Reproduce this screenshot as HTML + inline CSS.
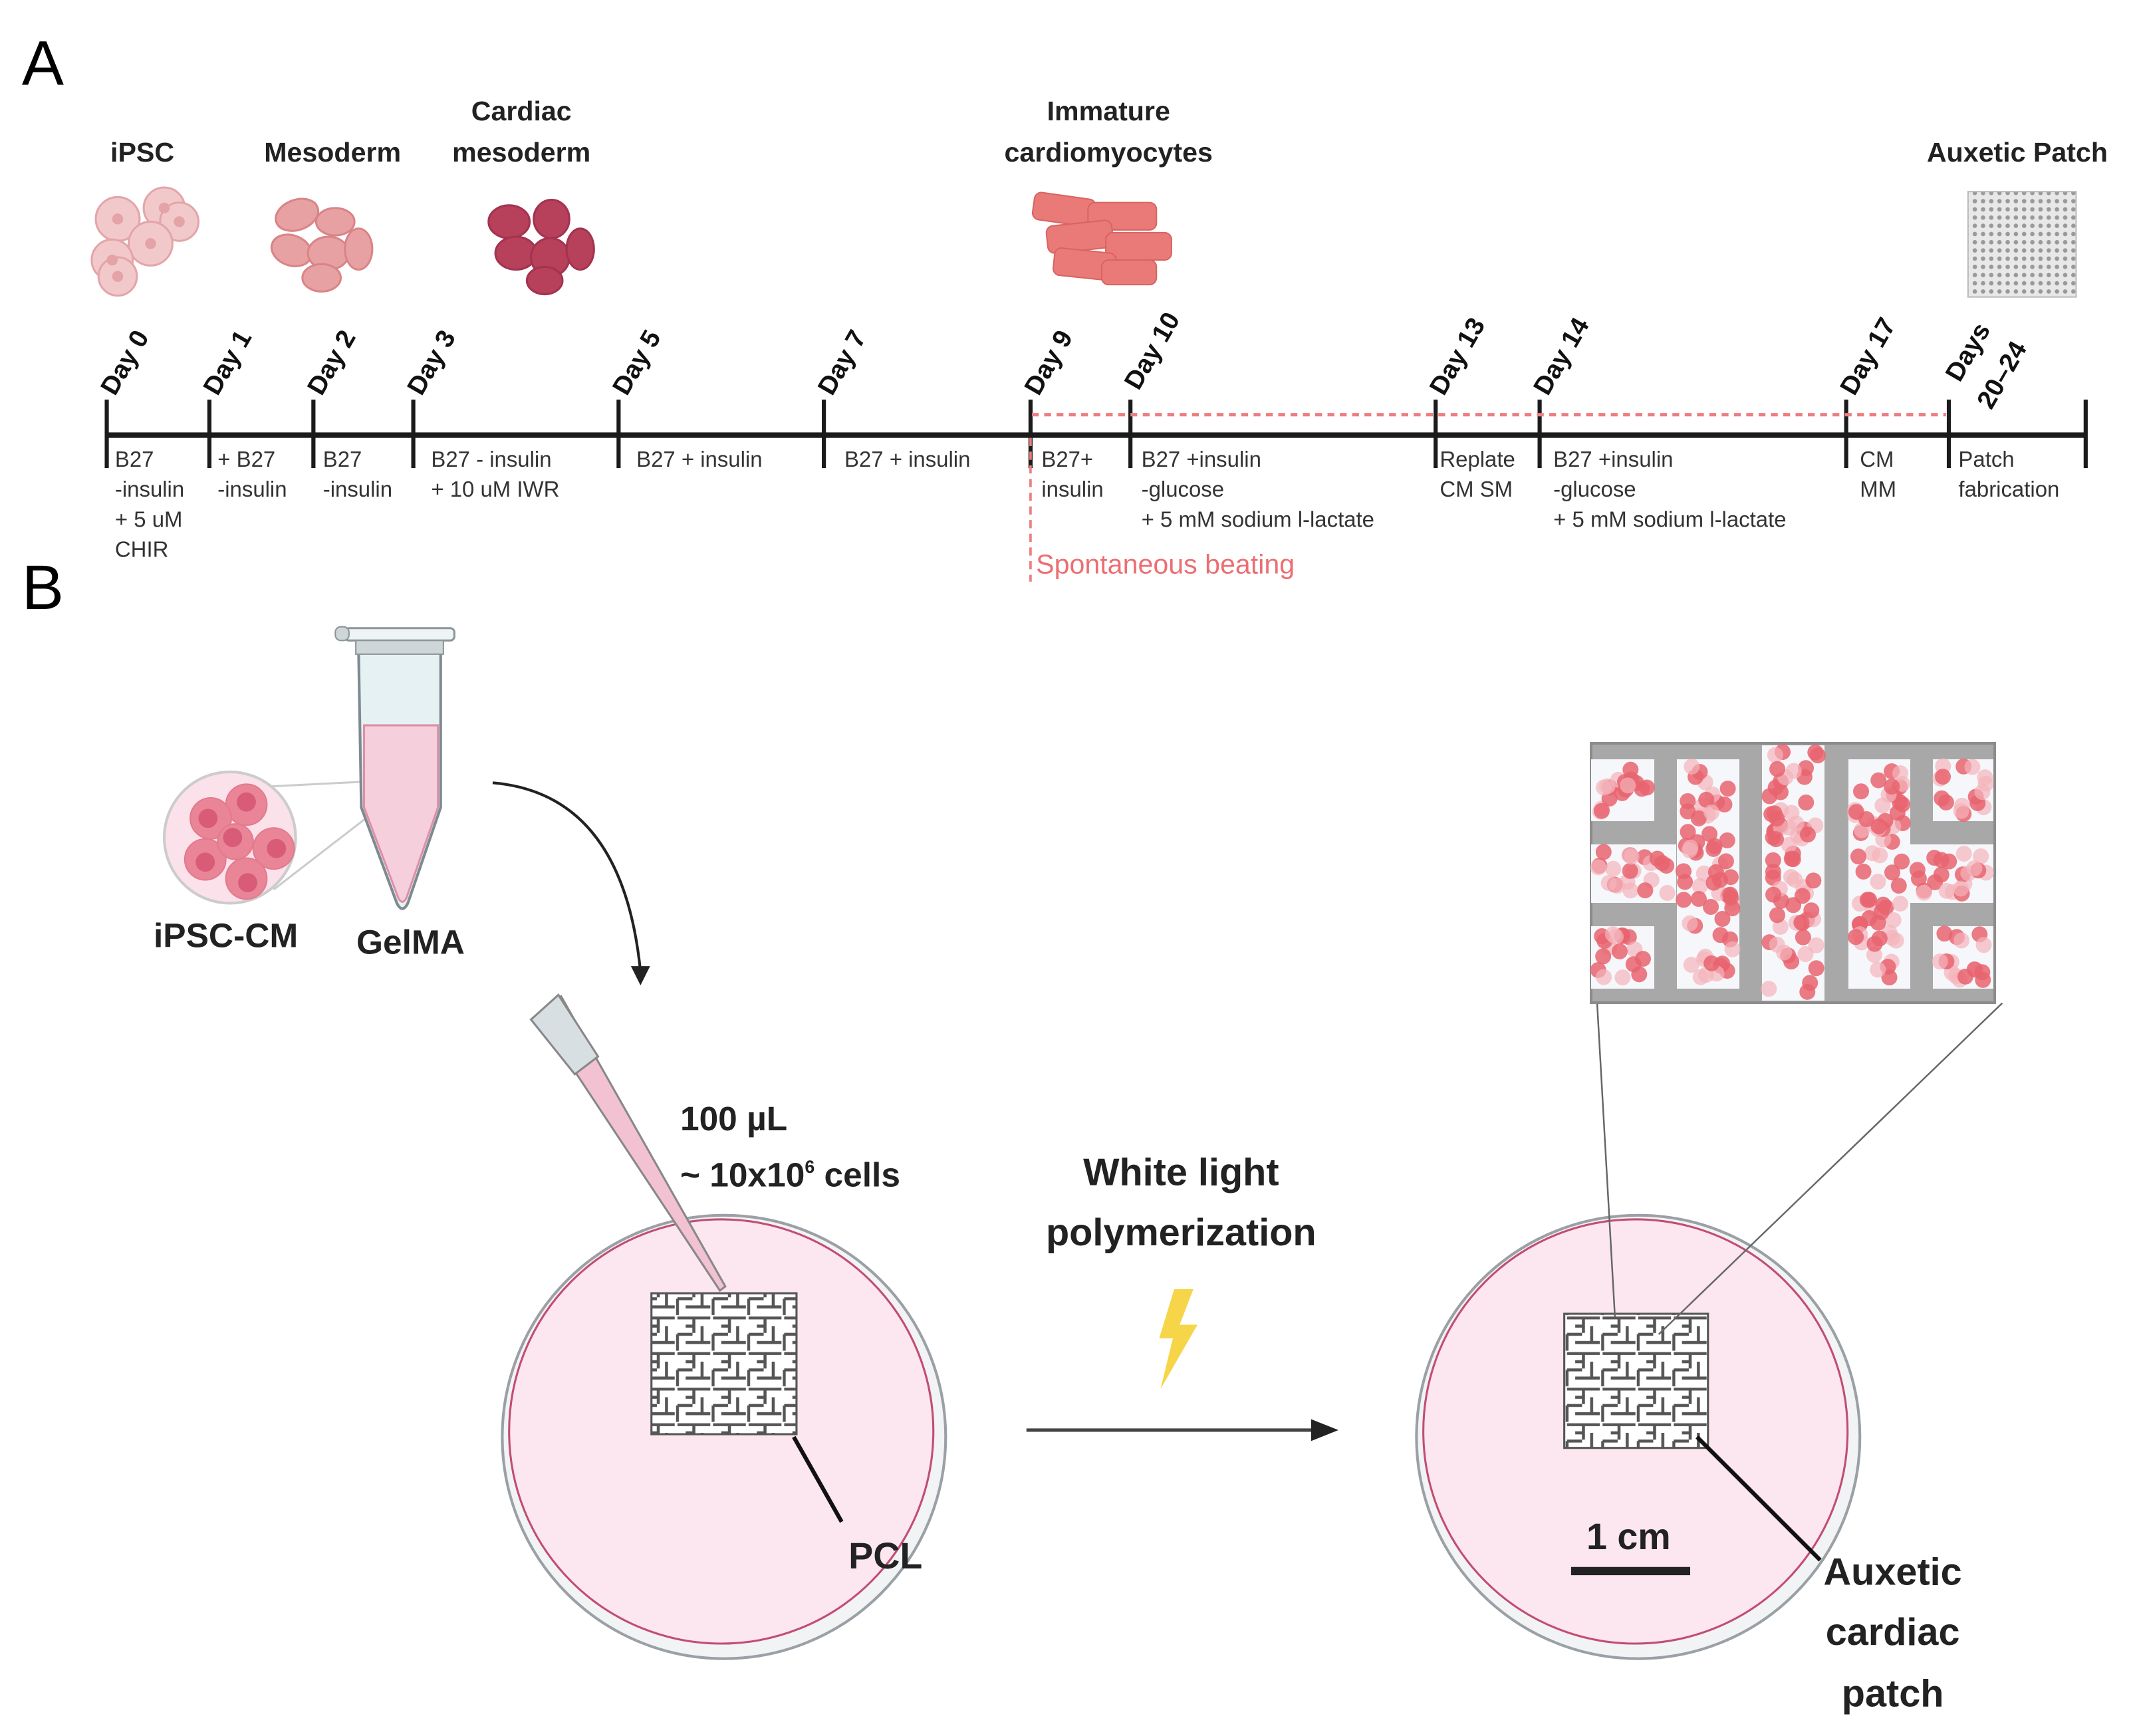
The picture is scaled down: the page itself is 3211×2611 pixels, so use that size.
<!DOCTYPE html>
<html><head><meta charset="utf-8"><style>
html,body{margin:0;padding:0;background:#fff;}
svg{display:block;}
text{font-family:"Liberation Sans",sans-serif;}
</style></head><body>
<svg id="s" width="3211" height="2611" viewBox="0 0 3211 2611" xmlns="http://www.w3.org/2000/svg">
<defs>
<pattern id="aux" width="26" height="26" patternUnits="userSpaceOnUse">
<rect width="26" height="26" fill="#fff"/>
<path d="M1 1h24M13 1v11M1 13h11M1 13v12M7 19h18M19 7v12M7 7h6" stroke="#555" stroke-width="2.2" fill="none"/>
</pattern>
<pattern id="aux2" width="6" height="6" patternUnits="userSpaceOnUse">
<rect width="6" height="6" fill="#e8e8e8"/><circle cx="3" cy="3" r="1.6" fill="#999"/>
</pattern>
</defs>
<g transform="scale(2.0583)">
<text x="16" y="62" font-size="46">A</text>
<text x="16" y="445" font-size="46">B</text>
<!-- top labels -->
<g font-size="20" font-weight="bold" fill="#222" text-anchor="middle">
<text x="104" y="118">iPSC</text>
<text x="243" y="118">Mesoderm</text>
<text x="381" y="88">Cardiac</text>
<text x="381" y="118">mesoderm</text>
<text x="810" y="88">Immature</text>
<text x="810" y="118">cardiomyocytes</text>
<text x="1474" y="118">Auxetic Patch</text>
</g>
<!-- cells -->
<g fill="#f2c9cb" stroke="#e3a5aa" stroke-width="1.5">
<circle cx="86" cy="160" r="16"/><circle cx="120" cy="152" r="15"/><circle cx="131" cy="162" r="14"/><circle cx="110" cy="178" r="16"/><circle cx="82" cy="190" r="15"/><circle cx="86" cy="202" r="14"/>
</g>
<g fill="#e3a3a7"><circle cx="86" cy="160" r="4"/><circle cx="120" cy="152" r="4"/><circle cx="131" cy="162" r="4"/><circle cx="110" cy="178" r="4"/><circle cx="82" cy="190" r="4"/><circle cx="86" cy="202" r="4"/></g>
<g fill="#e7a1a3" stroke="#d98487" stroke-width="1.5">
<ellipse cx="217" cy="157" rx="16" ry="11" transform="rotate(-20 217 157)"/><ellipse cx="245" cy="162" rx="14" ry="10"/><ellipse cx="213" cy="183" rx="15" ry="11" transform="rotate(20 213 183)"/><ellipse cx="240" cy="185" rx="15" ry="12"/><ellipse cx="262" cy="182" rx="10" ry="15"/><ellipse cx="235" cy="203" rx="14" ry="10"/>
</g>
<g fill="#b7405b" stroke="#a33350" stroke-width="1.5">
<ellipse cx="372" cy="162" rx="15" ry="12"/><ellipse cx="403" cy="160" rx="13" ry="14"/><ellipse cx="377" cy="185" rx="15" ry="12"/><ellipse cx="402" cy="188" rx="14" ry="14"/><ellipse cx="424" cy="182" rx="10" ry="15"/><ellipse cx="398" cy="205" rx="13" ry="10"/>
</g>
<g fill="#e97a78" stroke="#d86462" stroke-width="1">
<rect x="755" y="143" width="45" height="20" rx="5" transform="rotate(8 777 153)"/><rect x="795" y="148" width="50" height="20" rx="5"/><rect x="765" y="163" width="48" height="20" rx="5" transform="rotate(-6 789 173)"/><rect x="808" y="170" width="48" height="20" rx="5"/><rect x="770" y="183" width="45" height="20" rx="5" transform="rotate(6 792 193)"/><rect x="805" y="190" width="40" height="18" rx="5"/>
</g>
<rect x="1438" y="140" width="79" height="77" fill="url(#aux2)" stroke="#bbb"/>
<!-- timeline -->
<line x1="78" y1="318" x2="1524" y2="318" stroke="#1b1b1b" stroke-width="4"/>
<g stroke="#1b1b1b" stroke-width="3">
<line x1="78" y1="292" x2="78" y2="342"/><line x1="153" y1="292" x2="153" y2="342"/><line x1="229" y1="292" x2="229" y2="342"/><line x1="302" y1="292" x2="302" y2="342"/><line x1="452" y1="292" x2="452" y2="342"/><line x1="602" y1="292" x2="602" y2="342"/><line x1="753" y1="292" x2="753" y2="342"/><line x1="826" y1="292" x2="826" y2="342"/><line x1="1049" y1="292" x2="1049" y2="342"/><line x1="1125" y1="292" x2="1125" y2="342"/><line x1="1349" y1="292" x2="1349" y2="342"/><line x1="1424" y1="292" x2="1424" y2="342"/><line x1="1524" y1="292" x2="1524" y2="342"/>
</g>
<line x1="754" y1="303" x2="1422" y2="303" stroke="#ec7e80" stroke-width="2.5" stroke-dasharray="5,4"/>
<line x1="753" y1="320" x2="753" y2="425" stroke="#ec7e80" stroke-width="1.8" stroke-dasharray="6,4"/>
<g font-size="19" font-weight="bold" fill="#111">
<text transform="translate(84,290) rotate(-60)">Day 0</text>
<text transform="translate(159,290) rotate(-60)">Day 1</text>
<text transform="translate(235,290) rotate(-60)">Day 2</text>
<text transform="translate(308,290) rotate(-60)">Day 3</text>
<text transform="translate(458,290) rotate(-60)">Day 5</text>
<text transform="translate(608,290) rotate(-60)">Day 7</text>
<text transform="translate(759,290) rotate(-60)">Day 9</text>
<text transform="translate(832,286) rotate(-60)">Day 10</text>
<text transform="translate(1055,290) rotate(-60)">Day 13</text>
<text transform="translate(1131,290) rotate(-60)">Day 14</text>
<text transform="translate(1355,290) rotate(-60)">Day 17</text>
<text transform="translate(1432,280) rotate(-60)">Days</text>
<text transform="translate(1455,300) rotate(-60)">20–24</text>
</g>
<g font-size="16" fill="#333">
<text x="84" y="341">B27</text><text x="84" y="363">-insulin</text><text x="84" y="385">+ 5 uM</text><text x="84" y="407">CHIR</text>
<text x="159" y="341">+ B27</text><text x="159" y="363">-insulin</text>
<text x="236" y="341">B27</text><text x="236" y="363">-insulin</text>
<text x="315" y="341">B27 - insulin</text><text x="315" y="363">+ 10 uM IWR</text>
<text x="465" y="341">B27 + insulin</text>
<text x="617" y="341">B27 + insulin</text>
<text x="761" y="341">B27+</text><text x="761" y="363">insulin</text>
<text x="834" y="341">B27 +insulin</text><text x="834" y="363">-glucose</text><text x="834" y="385">+ 5 mM sodium l-lactate</text>
<text x="1052" y="341">Replate</text><text x="1052" y="363">CM SM</text>
<text x="1135" y="341">B27 +insulin</text><text x="1135" y="363">-glucose</text><text x="1135" y="385">+ 5 mM sodium l-lactate</text>
<text x="1359" y="341">CM</text><text x="1359" y="363">MM</text>
<text x="1431" y="341">Patch</text><text x="1431" y="363">fabrication</text>
</g>
<text x="757" y="419" font-size="20" fill="#ec6e72">Spontaneous beating</text>

<!-- B: tube -->
<line x1="190" y1="575" x2="290" y2="570" stroke="#ccc" stroke-width="1.5"/>
<line x1="200" y1="650" x2="297" y2="575" stroke="#ccc" stroke-width="1.5"/>
<circle cx="168" cy="612" r="48" fill="#fbe1ea" stroke="#ccc" stroke-width="2"/>
<g fill="#e98597" stroke="#e27a8d"><circle cx="180" cy="588" r="15"/><circle cx="154" cy="598" r="15"/><circle cx="200" cy="620" r="15"/><circle cx="150" cy="628" r="15"/><circle cx="180" cy="642" r="15"/><circle cx="172" cy="615" r="13"/></g>
<g fill="#d85c77"><circle cx="180" cy="586" r="7"/><circle cx="152" cy="598" r="7"/><circle cx="202" cy="620" r="7"/><circle cx="150" cy="630" r="7"/><circle cx="181" cy="645" r="7"/><circle cx="170" cy="612" r="7"/></g>
<path d="M262 475 L322 475 L322 590 L298 660 Q294 668 290 660 L264 590 Z" fill="#e6f1f3" stroke="#7d8b90" stroke-width="2"/>
<path d="M266 530 L320 530 L320 590 L297 656 Q294 662 291 656 L266 590 Z" fill="#f6cfdc" stroke="#dd8fa8" stroke-width="1.5"/>
<rect x="252" y="459" width="80" height="9" rx="3" fill="#eef4f6" stroke="#8a969a" stroke-width="1.5"/>
<rect x="260" y="468" width="64" height="10" fill="#cfd6d8" stroke="#8a969a"/>
<rect x="245" y="458" width="10" height="10" rx="4" fill="#cfd6d8" stroke="#8a969a"/>
<text x="165" y="692" font-size="25" font-weight="bold" fill="#222" text-anchor="middle">iPSC-CM</text>
<text x="300" y="697" font-size="25" font-weight="bold" fill="#222" text-anchor="middle">GelMA</text>
<path d="M360 572 Q455 580 468 710" fill="none" stroke="#222" stroke-width="2"/>
<path d="M461 706 L468 720 L475 706 Z" fill="#222"/>
<!-- left dish -->
<circle cx="529" cy="1050" r="162" fill="#f1f3f5" stroke="#9aa0a5" stroke-width="2"/>
<circle cx="527" cy="1046" r="155" fill="#fce6ef" stroke="#c24d72" stroke-width="1.5"/>
<rect x="476" y="945" width="106" height="103" fill="url(#aux)" stroke="#555" stroke-width="1.5"/>
<line x1="580" y1="1050" x2="615" y2="1112" stroke="#111" stroke-width="3"/>
<text x="620" y="1146" font-size="27" font-weight="bold" fill="#222">PCL</text>
<!-- pipette -->
<path d="M393 742 L410 728 L530 940 L526 943 Z" fill="#f3c2d2" stroke="#888" stroke-width="1.5"/>
<path d="M388 745 L408 727 L437 772 L420 785 Z" fill="#d8dfe2" stroke="#888" stroke-width="1.5"/>
<text x="497" y="826" font-size="25" font-weight="bold" fill="#222">100 µL</text>
<text x="497" y="867" font-size="25" font-weight="bold" fill="#222">~ 10x10<tspan font-size="13" dy="-10">6</tspan><tspan dy="10"> cells</tspan></text>
<!-- middle -->
<text x="863" y="866" font-size="28" font-weight="bold" fill="#222" text-anchor="middle">White light</text>
<text x="863" y="910" font-size="28" font-weight="bold" fill="#222" text-anchor="middle">polymerization</text>
<path d="M858 942 L872 942 L862 968 L875 968 L848 1015 L857 978 L847 978 Z" fill="#f7d548"/>
<line x1="750" y1="1045" x2="962" y2="1045" stroke="#444" stroke-width="2.5"/>
<path d="M958 1037 L978 1045 L958 1053 Z" fill="#222"/>
<!-- right dish -->
<circle cx="1197" cy="1050" r="162" fill="#f1f3f5" stroke="#9aa0a5" stroke-width="2"/>
<circle cx="1195" cy="1046" r="155" fill="#fce6ef" stroke="#c24d72" stroke-width="1.5"/>
<rect x="1143" y="960" width="105" height="98" fill="url(#aux)" stroke="#555" stroke-width="1.5"/>
<line x1="1167" y1="733" x2="1180" y2="962" stroke="#666" stroke-width="1.2"/>
<line x1="1463" y1="733" x2="1212" y2="975" stroke="#666" stroke-width="1.2"/>
<line x1="1240" y1="1050" x2="1330" y2="1140" stroke="#111" stroke-width="3"/>
<text x="1190" y="1132" font-size="27" font-weight="bold" fill="#222" text-anchor="middle">1 cm</text>
<line x1="1148" y1="1148" x2="1235" y2="1148" stroke="#222" stroke-width="6"/>
<g font-size="28" font-weight="bold" fill="#222" text-anchor="middle">
<text x="1383" y="1158">Auxetic</text><text x="1383" y="1202">cardiac</text><text x="1383" y="1247">patch</text>
</g>
</g>
<!-- inset box in original coords -->
<g transform="translate(2393,1118)">
<rect x="0" y="0" width="607" height="390" fill="#a8a8a8" stroke="#8c8c8c" stroke-width="4"/>
<g fill="#f6f7fa" id="wh">
<rect x="0" y="24" width="95" height="93"/>
<rect x="0" y="152" width="128" height="88"/>
<rect x="0" y="275" width="95" height="94"/>
<rect x="129" y="24" width="94" height="345"/>
<rect x="257" y="3" width="94" height="384"/>
<rect x="387" y="24" width="93" height="345"/>
<rect x="480" y="152" width="125" height="88"/>
<rect x="514" y="24" width="91" height="93"/>
<rect x="514" y="275" width="91" height="94"/>
</g>
<g id="dots"></g>
</g>
</svg>
<script>
(function(){
var rects=[[0,24,95,93],[0,152,128,88],[0,275,95,94],[129,24,94,345],[257,3,94,384],[387,24,93,345],[480,152,125,88],[514,24,91,93],[514,275,91,94]];
var g=document.getElementById('dots');var seed=7;function r(){seed=(seed*9301+49297)%233280;return seed/233280;}
var ns='http://www.w3.org/2000/svg';
rects.forEach(function(b){var n=Math.round(b[2]*b[3]/520);for(var i=0;i<n;i++){var c=document.createElementNS(ns,'circle');
c.setAttribute('cx',b[0]+10+r()*(b[2]-20));c.setAttribute('cy',b[1]+10+r()*(b[3]-20));c.setAttribute('r',12);
var d=r()<0.55;c.setAttribute('fill',d?'#e8646f':'#f3b3ba');c.setAttribute('opacity',d?0.85:0.7);g.appendChild(c);}});
})();
</script>
</body></html>
